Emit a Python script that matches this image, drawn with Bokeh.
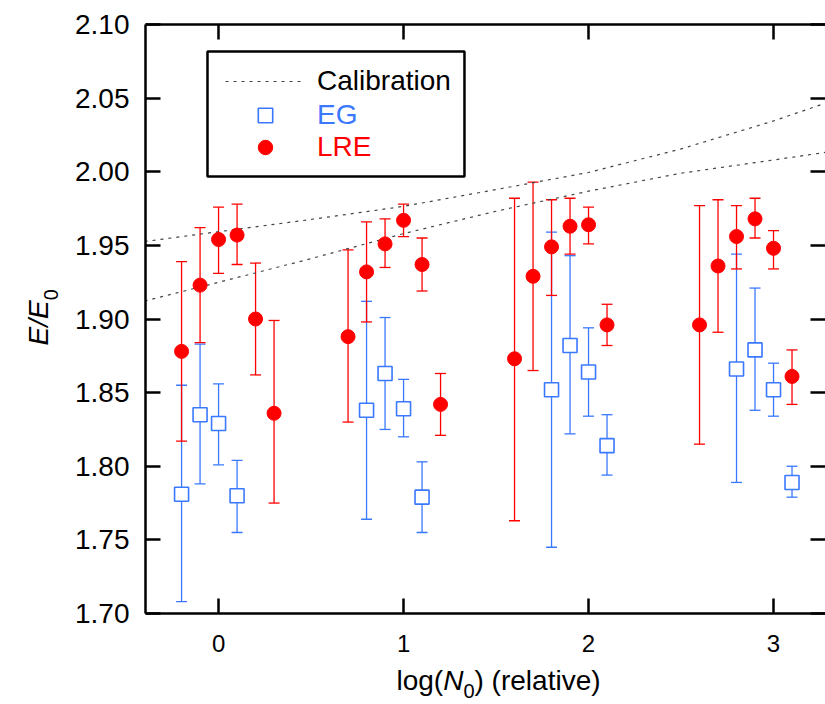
import math
from bokeh.plotting import figure
from bokeh.layouts import row, column
from bokeh.models import (ColumnDataSource, Whisker, TeeHead, Legend, LegendItem,
                          LinearAxis, FixedTicker, PrintfTickFormatter,
                          CustomJSTickFormatter, BoxAnnotation, Label, Range1d)
from bokeh.embed import file_html
from bokeh.resources import INLINE

# ---------------- data ----------------
lre_x = [-0.2, -0.1, 0.0, 0.1, 0.2, 0.3, 0.7, 0.8, 0.9, 1.0, 1.1, 1.2,
         1.6, 1.7, 1.8, 1.9, 2.0, 2.1, 2.6, 2.7, 2.8, 2.9, 3.0, 3.1]
lre_y = [1.878, 1.923, 1.954, 1.957, 1.900, 1.836, 1.888, 1.932, 1.951, 1.967, 1.937, 1.842,
         1.873, 1.929, 1.949, 1.963, 1.964, 1.896, 1.896, 1.936, 1.956, 1.968, 1.948, 1.861]
lre_hi = [1.939, 1.962, 1.976, 1.978, 1.938, 1.899, 1.947, 1.966, 1.968, 1.978, 1.955, 1.863,
          1.982, 1.993, 1.981, 1.982, 1.976, 1.910, 1.977, 1.981, 1.977, 1.982, 1.960, 1.879]
lre_lo = [1.817, 1.884, 1.931, 1.937, 1.862, 1.775, 1.830, 1.898, 1.935, 1.956, 1.919, 1.821,
          1.763, 1.865, 1.916, 1.944, 1.951, 1.882, 1.815, 1.891, 1.934, 1.955, 1.934, 1.842]

eg_x = [-0.2, -0.1, 0.0, 0.1, 0.8, 0.9, 1.0, 1.1, 1.8, 1.9, 2.0, 2.1, 2.8, 2.9, 3.0, 3.1]
eg_y = [1.781, 1.835, 1.829, 1.780, 1.838, 1.863, 1.839, 1.779,
        1.852, 1.882, 1.864, 1.814, 1.866, 1.879, 1.852, 1.789]
eg_hi = [1.855, 1.883, 1.856, 1.804, 1.912, 1.901, 1.859, 1.803,
         1.959, 1.943, 1.894, 1.835, 1.944, 1.921, 1.870, 1.800]
eg_lo = [1.708, 1.788, 1.801, 1.755, 1.764, 1.825, 1.820, 1.755,
         1.745, 1.822, 1.834, 1.794, 1.789, 1.838, 1.834, 1.779]

cal_x = [-0.4, 0.0, 0.5, 1.0, 1.5, 2.0, 2.5, 3.0, 3.3]
cal_upper = [1.9526, 1.9593, 1.9676, 1.9765, 1.9879, 1.9995, 2.0155, 2.0345, 2.0474]
cal_lower = [1.9122, 1.9249, 1.9410, 1.9580, 1.9732, 1.9868, 1.9990, 2.0080, 2.0135]

x_ticks = [0, 1, 2, 3]
y_ticks = [1.70, 1.75, 1.80, 1.85, 1.90, 1.95, 2.00, 2.05, 2.10]

legend_labels = ["Calibration", "EG", "LRE"]

# ---------------- styling ----------------
RED = "#ff0000"
BLUE = "#3a78ff"
FONT = "Liberation Sans"
XMIN, XMAX = -0.395, 3.281
YMIN, YMAX = 1.70, 2.10

W, H = 825, 704
LW = 60          # left strip (y title)
BH = 40          # bottom strip (x title)
MW, MH = W - LW, H - BH
FR_L, FR_T, FR_B = 145, 24, 613      # frame edges in page pixels
PX_PER_X = 185.0
PX_PER_Y = (FR_B - FR_T) / (YMAX - YMIN)


def dx(px):
    return XMIN + (px - FR_L) / PX_PER_X


def dy(py):
    return YMAX - (py - FR_T) / PX_PER_Y


p = figure(width=MW, height=MH, output_backend="svg", toolbar_location=None, title=None,
           x_range=Range1d(XMIN, XMAX), y_range=Range1d(YMIN, YMAX),
           min_border_left=FR_L - LW, min_border_right=0, min_border_top=FR_T,
           min_border_bottom=MH - FR_B)
p.outline_line_color = None
p.xgrid.visible = False
p.ygrid.visible = False
p.background_fill_color = "white"


def style_axis(ax, ticks):
    ax.ticker = FixedTicker(ticks=ticks)
    ax.axis_line_width = 2.5
    ax.axis_line_color = "black"
    ax.major_tick_line_width = 2.5
    ax.major_tick_in = 15
    ax.major_tick_out = 0
    ax.minor_tick_line_color = None


xa = p.xaxis[0]
style_axis(xa, x_ticks)
xa.major_label_text_font = FONT
xa.major_label_text_font_size = "24px"
xa.major_label_standoff = 21
xa.major_label_text_color = "black"

ya = p.yaxis[0]
style_axis(ya, y_ticks)
ya.formatter = PrintfTickFormatter(format="%.2f")
ya.major_label_text_font = FONT
ya.major_label_text_font_size = "28px"
ya.major_label_standoff = 16
ya.major_label_text_color = "black"

top = LinearAxis(formatter=CustomJSTickFormatter(code="return ''"), major_label_standoff=0)
style_axis(top, x_ticks)
p.add_layout(top, "above")
right = LinearAxis(formatter=CustomJSTickFormatter(code="return ''"), major_label_standoff=0)
style_axis(right, y_ticks)
right.axis_line_color = None
p.add_layout(right, "right")

# calibration curves
cal1 = p.line(cal_x, cal_upper, line_color="#444444", line_width=1.2, line_dash="3 5")
cal2 = p.line(cal_x, cal_lower, line_color="#444444", line_width=1.2, line_dash="3 5")

# error bars
eg_src = ColumnDataSource(dict(x=eg_x, y=eg_y, hi=eg_hi, lo=eg_lo))
lre_src = ColumnDataSource(dict(x=lre_x, y=lre_y, hi=lre_hi, lo=lre_lo))

w_eg = Whisker(base="x", upper="hi", lower="lo", source=eg_src,
               line_color=BLUE, line_width=1.3,
               upper_head=TeeHead(size=11, line_color=BLUE, line_width=1.3),
               lower_head=TeeHead(size=11, line_color=BLUE, line_width=1.3))
w_lre = Whisker(base="x", upper="hi", lower="lo", source=lre_src,
                line_color=RED, line_width=1.3,
                upper_head=TeeHead(size=11, line_color=RED, line_width=1.3),
                lower_head=TeeHead(size=11, line_color=RED, line_width=1.3))
p.add_layout(w_eg)
p.add_layout(w_lre)

eg_r = p.scatter("x", "y", source=eg_src, marker="square", size=14,
                 fill_color="white", line_color=BLUE, line_width=1.6)
lre_r = p.scatter("x", "y", source=lre_src, marker="circle", size=14,
                  fill_color=RED, line_color=RED, line_width=1)

# legend frame
box = BoxAnnotation(left=dx(207), right=dx(464), top=dy(51), bottom=dy(176),
                    fill_alpha=0, line_color="black", line_alpha=1.0, line_width=2.5)
p.add_layout(box)

GH = 36
rows = [(legend_labels[0], cal1, "black", 81),
        (legend_labels[1], eg_r, BLUE, 115),
        (legend_labels[2], lre_r, RED, 147)]
for lab, rend, col, cy in rows:
    lg = Legend(items=[LegendItem(label=lab, renderers=[rend])],
                location=(225 - FR_L, FR_B - (cy + GH / 2)),
                glyph_width=80, glyph_height=GH, label_standoff=12,
                label_text_font=FONT, label_text_font_size="28px",
                label_text_color=col, padding=0, margin=0, spacing=0,
                border_line_alpha=0, background_fill_alpha=0)
    p.add_layout(lg, "center")


def strip(width, height, xr, yr):
    s = figure(width=width, height=height, output_backend="svg", toolbar_location=None,
               title=None, x_range=Range1d(*xr), y_range=Range1d(*yr),
               x_axis_type=None, y_axis_type=None,
               min_border=0, min_border_left=0, min_border_right=0,
               min_border_top=0, min_border_bottom=0)
    s.outline_line_color = None
    s.xgrid.visible = False
    s.ygrid.visible = False
    return s


# x title strip (its frame is aligned with the main frame: page x 145..825)
bx = strip(MW, BH, (FR_L, W), (H, MH))
fs = 28
xb = 680
x0 = 396
bx.add_layout(Label(x=x0, y=xb, text="log(", text_font=FONT, text_font_size="28px",
                    text_align="left", text_baseline="alphabetic", text_color="black"))
xN = x0 + 1.667 * fs
bx.add_layout(Label(x=xN, y=xb, text="N", text_font=FONT, text_font_size="28px",
                    text_font_style="italic", text_align="left", text_baseline="alphabetic",
                    text_color="black"))
x0s = xN + 0.722 * fs
bx.add_layout(Label(x=x0s, y=xb + 10, text="0", text_font=FONT, text_font_size="20px",
                    text_align="left", text_baseline="alphabetic", text_color="black"))
xr = x0s + 0.556 * 20
bx.add_layout(Label(x=xr, y=xb, text=") (relative)", text_font=FONT,
                    text_font_size="28px", text_align="left", text_baseline="alphabetic",
                    text_color="black"))

# y title strip: E/E0 (rotated)
ly = strip(LW, H, (0, LW), (H, 0))
ly.add_layout(Label(x=38, y=345, text="E/E", text_font=FONT, text_font_size="28px",
                    text_font_style="italic", angle=math.pi / 2, text_align="left",
                    text_baseline="alphabetic", text_color="black"))
ly.add_layout(Label(x=50, y=345 - 1.612 * fs, text="0", text_font=FONT,
                    text_font_size="20px", angle=math.pi / 2, text_align="left",
                    text_baseline="alphabetic", text_color="black"))

layout = row(ly, column(p, bx, spacing=0), spacing=0)

open("out.html", "w").write(file_html(layout, INLINE))
